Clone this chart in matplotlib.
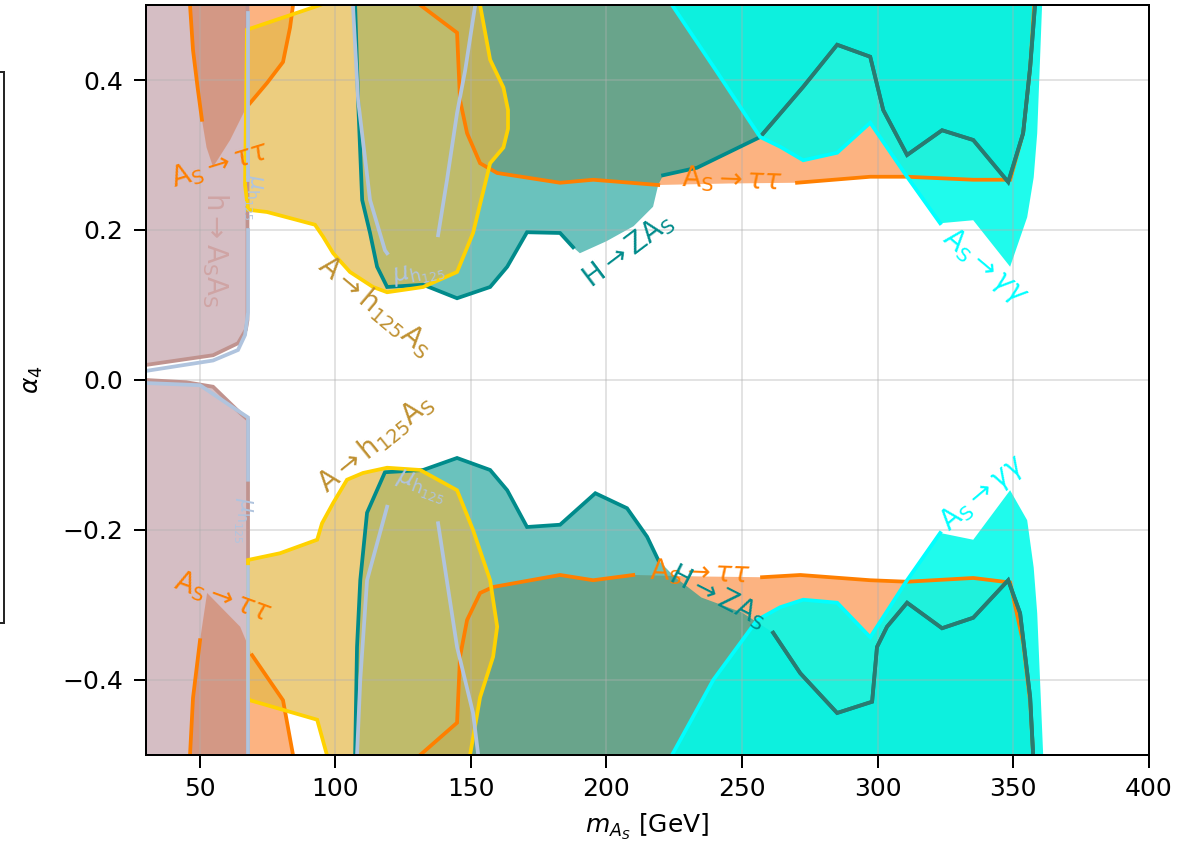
import matplotlib.pyplot as plt
from matplotlib.patches import Rectangle

# excluded regions in the (m_As, alpha_4) plane
# h -> As As
haa_up_m = [30, 54.9, 64.1, 67.0, 67.6, 67.6]
haa_up_a = [0.02, 0.033, 0.049, 0.067, 0.08, 0.5]
haa_lo_m = [30, 45, 54.9, 64.9, 67.8, 67.8]
haa_lo_a = [0.0, -0.003, -0.009, -0.044, -0.053, -0.5]

# As -> tau tau
tau_ul_m = [46.4, 47.5, 49.2, 50.8, 52.5, 54.9, 61.2, 66.7, 68.5, 74.8, 80.7, 83.3, 84.4]
tau_ul_a = [0.5, 0.44, 0.39, 0.347, 0.31, 0.284, 0.32, 0.36, 0.369, 0.396, 0.424, 0.47, 0.5]
tau_ll_m = [46.4, 47.5, 50.1, 52.7, 64.9, 69.3, 80.7, 84.4]
tau_ll_a = [-0.5, -0.424, -0.347, -0.284, -0.329, -0.367, -0.427, -0.5]
tau_up_m = [131.3, 144.9, 146.0, 148.6, 153.4, 159.7, 182.9, 195.1, 219.1, 245.0,
            270.3, 297.3, 310.9, 335.3, 348.9, 353.7, 356.3, 357.8]
tau_up_a = [0.5, 0.463, 0.373, 0.329, 0.289, 0.276, 0.263, 0.267, 0.26, 0.262,
            0.263, 0.271, 0.271, 0.267, 0.267, 0.329, 0.417, 0.5]
tau_lo_m = [131.3, 144.9, 146.0, 148.6, 153.4, 158.2, 182.9, 195.1, 209.9, 235.0,
            257.4, 271.5, 297.3, 310.9, 335.3, 348.9, 353.7, 356.3, 357.4]
tau_lo_a = [-0.5, -0.457, -0.369, -0.32, -0.284, -0.276, -0.26, -0.267, -0.26, -0.262,
            -0.263, -0.26, -0.267, -0.269, -0.264, -0.27, -0.35, -0.43, -0.5]

# A -> h125 As
ahs_up_m = [94.4, 67.4, 66.7, 67.8, 74.8, 92.5, 95.5, 99.2, 105.4, 113.9, 119.1,
            132.4, 144.9, 150.8, 157.1, 162.0, 163.7, 163.7, 162.0, 157.1, 153.4]
ahs_up_a = [0.5, 0.467, 0.26, 0.227, 0.224, 0.207, 0.191, 0.169, 0.144, 0.124, 0.117,
            0.124, 0.144, 0.196, 0.289, 0.31, 0.335, 0.36, 0.39, 0.427, 0.5]
ahs_lo_m = [96.9, 93.3, 68.5, 67.8, 67.8, 79.6, 93.3, 95.1, 99.2, 104.3, 110.2, 119.1,
            131.3, 144.9, 150.8, 157.1, 159.7, 158.2, 153.4, 149.7]
ahs_lo_a = [-0.5, -0.453, -0.427, -0.424, -0.24, -0.231, -0.213, -0.191, -0.164, -0.133,
            -0.124, -0.117, -0.12, -0.147, -0.2, -0.267, -0.329, -0.369, -0.423, -0.5]

# H -> Z As
hza_up_m = [107.3, 108.4, 109.9, 112.8, 115.4, 119.1, 132.4, 144.9, 157.1, 163.4, 170.7,
            182.9, 187.7, 190.2, 200.0, 210.0, 217.2, 219.1, 220.9, 233.4, 256.7, 272.6,
            285.1, 297.3, 302.1, 310.9, 323.8, 335.3, 348.2, 353.7, 356.3, 358.1]
hza_up_a = [0.5, 0.373, 0.24, 0.196, 0.151, 0.124, 0.127, 0.109, 0.124, 0.151, 0.197,
            0.196, 0.177, 0.169, 0.185, 0.205, 0.231, 0.26, 0.273, 0.283, 0.324, 0.391,
            0.447, 0.431, 0.36, 0.3, 0.333, 0.32, 0.264, 0.329, 0.417, 0.5]
hza_lo_m = [107.3, 108.0, 109.2, 111.7, 118.3, 132.4, 144.9, 157.1, 163.4, 170.7, 182.9,
            195.9, 207.6, 215.0, 219.1, 225.0, 235.0, 250.0, 261.5, 271.5, 285.1, 298.0,
            299.8, 303.5, 310.9, 323.8, 335.3, 348.2, 352.6, 356.3, 357.4]
hza_lo_a = [-0.5, -0.356, -0.267, -0.177, -0.123, -0.12, -0.104, -0.12, -0.147, -0.196, -0.193,
            -0.151, -0.171, -0.209, -0.24, -0.262, -0.29, -0.31, -0.337, -0.391, -0.444, -0.429,
            -0.356, -0.329, -0.297, -0.331, -0.317, -0.267, -0.311, -0.423, -0.5]

# As -> gamma gamma
gg_up_m = [224.2, 240.0, 256.7, 264.1, 272.6, 285.1, 297.3, 310.9, 323.1, 335.3, 348.9,
           355.2, 357.6, 358.9, 360.7]
gg_up_a = [0.5, 0.415, 0.324, 0.311, 0.293, 0.303, 0.343, 0.271, 0.209, 0.213, 0.151,
           0.217, 0.27, 0.329, 0.5]
gg_lo_m = [224.2, 239.4, 255.6, 264.1, 272.6, 285.1, 297.3, 310.9, 323.1, 335.3, 348.9,
           355.2, 357.6, 358.9, 361.1]
gg_lo_a = [-0.5, -0.4, -0.32, -0.303, -0.293, -0.297, -0.343, -0.267, -0.204, -0.213, -0.147,
           -0.187, -0.25, -0.311, -0.5]

# mu_h125 signal strength contours
mu1_up_m = [67.8, 67.8, 67.8, 67.8, 66.7, 64.1, 54.9, 30]
mu1_up_a = [0.49, 0.267, 0.2, 0.09, 0.06, 0.04, 0.026, 0.012]
mu1_lo_m = [30, 50.1, 64.9, 67.8, 67.8, 67.8, 67.8]
mu1_lo_a = [-0.004, -0.007, -0.043, -0.05, -0.133, -0.25, -0.5]
mu2_up_m = [106.5, 108.4, 112.8, 118.3, 119.1]
mu2_up_a = [0.5, 0.373, 0.24, 0.173, 0.169]
mu2_lo_m = [119.1, 111.7, 109.2, 108.0]
mu2_lo_a = [-0.169, -0.267, -0.4, -0.5]
mu3_up_m = [137.9, 141.2, 144.9, 147.9, 151.6]
mu3_up_a = [0.193, 0.267, 0.356, 0.413, 0.5]
mu3_lo_m = [137.9, 144.9, 150.8, 152.7]
mu3_lo_a = [-0.191, -0.356, -0.444, -0.5]

c_tau, c_haa, c_ahs, c_hza, c_gg, c_mu = '#ff7f00', '#c0938f', '#ffd200', '#008b8b', '#00ffff', '#b0c4de'

fig = plt.figure(figsize=(6.65, 848 / 180), dpi=180)
ax = fig.add_axes([0.1216, 0.1097, 0.838, 0.8844])


def region(m, a, corners, fc, alpha, z):
    xs = list(m) + [c[0] for c in corners]
    ys = list(a) + [c[1] for c in corners]
    return ax.fill(xs, ys, color=fc, alpha=alpha, lw=0, zorder=z)[0]


def line(m, a, col, lw=1.5, z=2, clip=None):
    ln, = ax.plot(m, a, color=col, lw=lw, zorder=z, solid_joinstyle='miter')
    if clip is not None:
        ln.set_clip_path(clip)
    return ln


# fills
for m, a in [(tau_ul_m, tau_ul_a), (tau_ll_m, tau_ll_a), (tau_up_m, tau_up_a), (tau_lo_m, tau_lo_a)]:
    region(m, a, [], '#fb6905', 0.5, 1.0)
region(haa_up_m, haa_up_a, [(30, 0.5)], '#ac7e8a', 0.5, 1.05)
region(haa_lo_m, haa_lo_a, [(30, -0.5)], '#ac7e8a', 0.5, 1.05)
for m, a in [(hza_up_m, hza_up_a), (hza_lo_m, hza_lo_a)]:
    region(m, a, [], '#079a92', 0.6, 1.1)
for m, a in [(ahs_up_m, ahs_up_a), (ahs_lo_m, ahs_lo_a)]:
    region(m, a, [], '#e4b949', 0.7, 1.15)
gg_up = region(gg_up_m, gg_up_a, [], '#00fbea', 0.88, 1.2)
gg_lo = region(gg_lo_m, gg_lo_a, [], '#00fbea', 0.88, 1.2)

# contour lines, broken where the labels sit
line(haa_up_m, haa_up_a, c_haa)
line(haa_lo_m, haa_lo_a, c_haa)
line(tau_ul_m[:4], tau_ul_a[:4], c_tau)
line(tau_ul_m[8:], tau_ul_a[8:], c_tau)
line(tau_ll_m[:3], tau_ll_a[:3], c_tau)
line(tau_ll_m[5:], tau_ll_a[5:], c_tau)
line(tau_up_m[:9], tau_up_a[:9], c_tau)
line(tau_up_m[10:], tau_up_a[10:], c_tau)
line(tau_lo_m[:9], tau_lo_a[:9], c_tau)
line(tau_lo_m[10:], tau_lo_a[10:], c_tau)
for sl, m, a, clip in [(slice(0, 13), hza_up_m, hza_up_a, gg_up), (slice(18, None), hza_up_m, hza_up_a, gg_up),
                       (slice(0, 15), hza_lo_m, hza_lo_a, gg_lo), (slice(18, None), hza_lo_m, hza_lo_a, gg_lo)]:
    line(m[sl], a[sl], c_hza)
    line(m[sl], a[sl], '#2b7a70', z=2.05, clip=clip)
line(ahs_up_m, ahs_up_a, c_ahs, z=2.1)
line(ahs_lo_m, ahs_lo_a, c_ahs, z=2.1)
line(gg_up_m[:9], gg_up_a[:9], c_gg, z=2.2)
line(gg_lo_m[:9], gg_lo_a[:9], c_gg, z=2.2)
line(mu1_up_m[:2], mu1_up_a[:2], c_mu, z=2.3)
line(mu1_up_m[2:], mu1_up_a[2:], c_mu, z=2.3)
line(mu1_lo_m[:5], mu1_lo_a[:5], c_mu, z=2.3)
line(mu1_lo_m[5:], mu1_lo_a[5:], c_mu, z=2.3)
for m, a in [(mu2_up_m, mu2_up_a), (mu2_lo_m, mu2_lo_a), (mu3_up_m, mu3_up_a), (mu3_lo_m, mu3_lo_a)]:
    line(m, a, c_mu, z=2.3)

# inline labels
labels = [
    (r'$\mathrm{A_S}\rightarrow\tau\tau$', 57.5, 0.287, 17, c_tau, 11),
    (r'$\mathrm{h}\rightarrow\mathrm{A_SA_S}$', 55.6, 0.173, -90, '#cfa4a4', 11),
    (r'$\mathrm{A}\rightarrow\mathrm{h_{125}A_S}$', 115.0, 0.099, -40, '#bf9030', 11),
    (r'$\mu_{\mathrm{h_{125}}}$', 130.6, 0.141, 12, c_mu, 10),
    (r'$\mu_{\mathrm{h_{125}}}$', 69.6, 0.244, -90, c_mu, 9),
    (r'$\mathrm{H}\rightarrow\mathrm{ZA_S}$', 208.0, 0.173, 37, c_hza, 11),
    (r'$\mathrm{A_S}\rightarrow\tau\tau$', 246.4, 0.267, -2, c_tau, 11),
    (r'$\mathrm{A_S}\rightarrow\gamma\gamma$', 339.7, 0.151, -40, c_gg, 11),
    (r'$\mathrm{A_S}\rightarrow\tau\tau$', 58.6, -0.29, -20, c_tau, 11),
    (r'$\mu_{\mathrm{h_{125}}}$', 66.0, -0.187, -90, c_mu, 9),
    (r'$\mathrm{A}\rightarrow\mathrm{h_{125}A_S}$', 115.0, -0.084, 39, '#bf9030', 11),
    (r'$\mu_{\mathrm{h_{125}}}$', 131.3, -0.143, -20, c_mu, 10),
    (r'$\mathrm{A_S}\rightarrow\tau\tau$', 234.6, -0.257, -2, c_tau, 11),
    (r'$\mathrm{H}\rightarrow\mathrm{ZA_S}$', 241.2, -0.289, -27, c_hza, 11),
    (r'$\mathrm{A_S}\rightarrow\gamma\gamma$', 339.0, -0.151, 40, c_gg, 11),
]
for txt, x, y, rot, col, fs in labels:
    ax.text(x, y, txt, color=col, fontsize=fs, rotation=rot, rotation_mode='anchor',
            ha='center', va='center', zorder=3)

ax.set_xlim(30, 400)
ax.set_ylim(-0.5, 0.5)
ax.set_xticks([50, 100, 150, 200, 250, 300, 350, 400])
ax.set_yticks([-0.4, -0.2, 0.0, 0.2, 0.4])
ax.tick_params(length=5, pad=4)
ax.grid(True, color='#b0b0b0', alpha=0.35, lw=0.8)
ax.set_xlabel(r'$m_{A_S}$ [GeV]')
ax.set_ylabel(r'$\alpha_4$')
ax.yaxis.set_label_coords(-0.1, 0.5)

# frame of the neighbouring legend panel
fig.add_artist(Rectangle((-0.2, 0.2653), 0.2033, 0.6498, transform=fig.transFigure,
                         fill=False, ec='0.15', lw=0.8, clip_on=False))

fig.savefig('out.png', dpi=180)
